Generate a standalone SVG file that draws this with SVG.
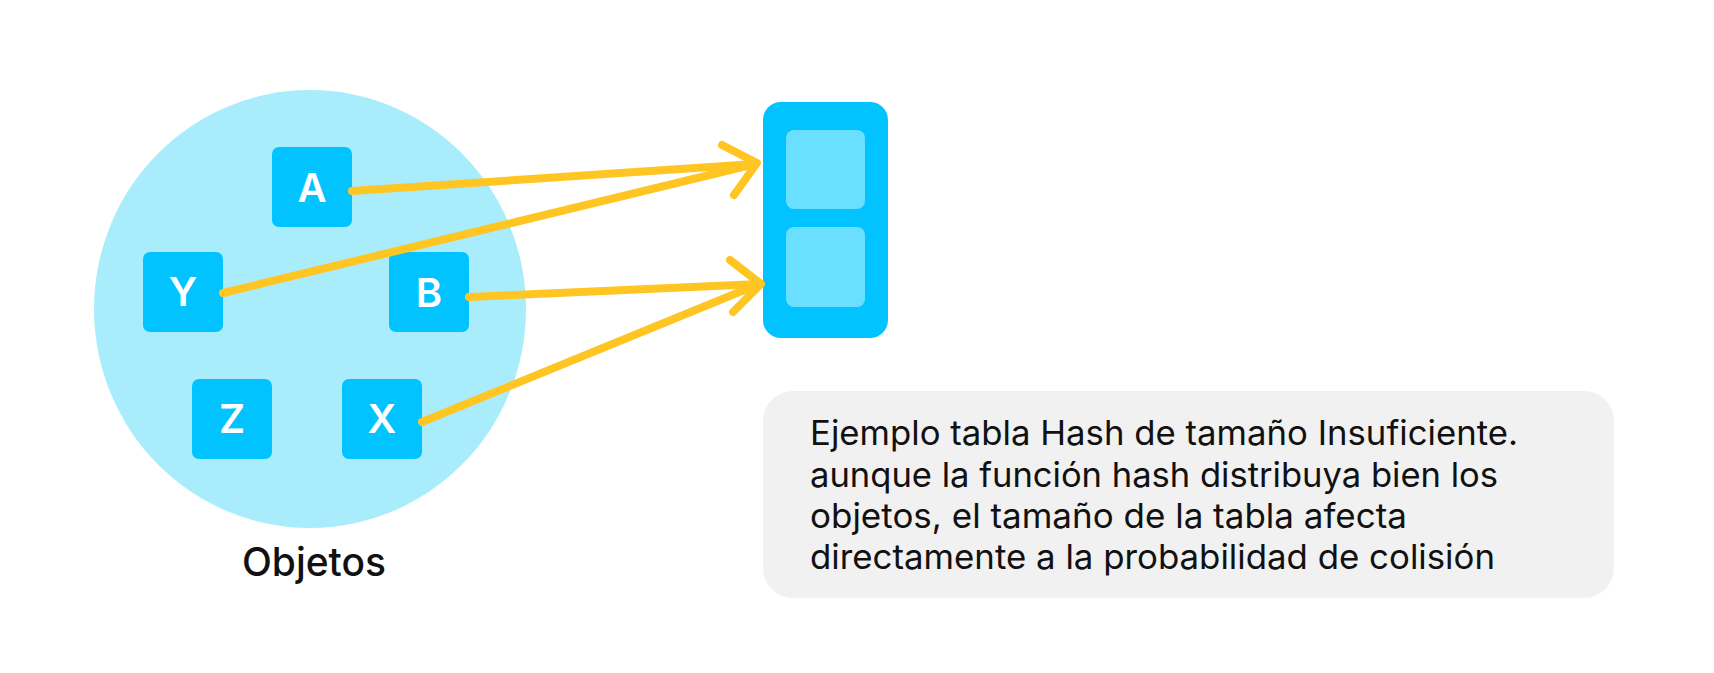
<svg xmlns="http://www.w3.org/2000/svg" width="1714" height="673" viewBox="0 0 1714 673">
<style>
.obj{fill:#00C3FF;}
.lbl{font-family:Inter,"Liberation Sans",sans-serif;font-size:40px;font-weight:600;fill:#FFFFFF;text-anchor:middle;}
.conn{stroke:#FFC623;stroke-width:8;stroke-linecap:round;stroke-linejoin:round;fill:none;}
.cell{fill:#6ADFFF;}
.note{font-family:Inter,"Liberation Sans",sans-serif;font-size:34px;fill:#111111;}
</style>
<rect width="1714" height="673" fill="#FFFFFF"/>
<g id="objetos">
<ellipse cx="310" cy="309" rx="216" ry="219" fill="#A9EDFC"/>
<text x="314" y="576" font-family="Inter,'Liberation Sans',sans-serif" font-size="39" font-weight="500" fill="#111111" text-anchor="middle" textLength="144" lengthAdjust="spacingAndGlyphs">Objetos</text>
</g>
<g id="node-A"><rect class="obj" x="272" y="147" width="80" height="80" rx="7"/><text class="lbl" x="312" y="202">A</text></g>
<g id="node-Y"><rect class="obj" x="143" y="252" width="80" height="80" rx="7"/><text class="lbl" x="183" y="306">Y</text></g>
<g id="node-B"><rect class="obj" x="389" y="252" width="80" height="80" rx="7"/><text class="lbl" x="429" y="307">B</text></g>
<g id="node-Z"><rect class="obj" x="192" y="379" width="80" height="80" rx="7"/><text class="lbl" x="232" y="433">Z</text></g>
<g id="node-X"><rect class="obj" x="342" y="379" width="80" height="80" rx="7"/><text class="lbl" x="382" y="433">X</text></g>
<g id="tabla">
<rect x="763" y="102" width="125" height="236" rx="18" fill="#00C3FF"/>
<rect class="cell" x="786" y="130" width="79" height="79" rx="8"/>
<rect class="cell" x="786" y="227" width="79" height="80" rx="8"/>
</g>
<g id="connectors">
<line class="conn" x1="352" y1="191" x2="755" y2="164"/>
<line class="conn" x1="223" y1="293" x2="755" y2="164"/>
<polyline class="conn" points="722,145 757,163 734,195"/>
<line class="conn" x1="469" y1="297" x2="759" y2="284"/>
<line class="conn" x1="422" y1="422" x2="759" y2="284"/>
<polyline class="conn" points="730,260 761,284 733,312"/>
</g>
<g id="nota">
<rect x="763" y="391" width="851" height="207" rx="30" fill="#F1F1F1"/>
<text class="note" x="810" y="445" textLength="708" lengthAdjust="spacingAndGlyphs">Ejemplo tabla Hash de tamaño Insuficiente.</text>
<text class="note" x="810" y="487" textLength="688" lengthAdjust="spacingAndGlyphs">aunque la función hash distribuya bien los</text>
<text class="note" x="810" y="528" textLength="597" lengthAdjust="spacingAndGlyphs">objetos, el tamaño de la tabla afecta</text>
<text class="note" x="810" y="569" textLength="685" lengthAdjust="spacingAndGlyphs">directamente a la probabilidad de colisión</text>
</g>
</svg>
